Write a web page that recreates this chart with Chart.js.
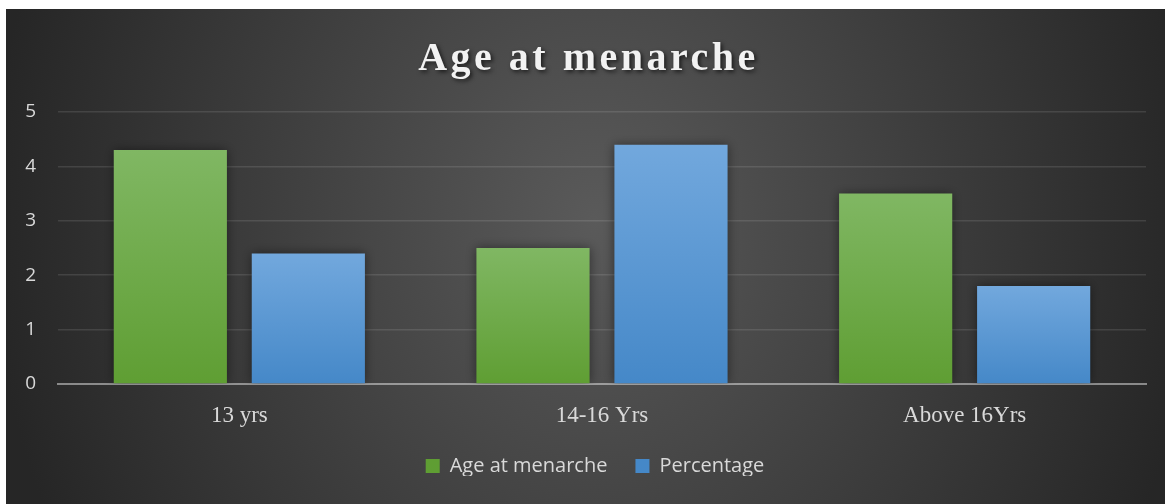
<!DOCTYPE html>
<html>
<head>
<meta charset="utf-8">
<script src="https://cdn.jsdelivr.net/npm/chart.js@4/dist/chart.umd.min.js"></script>
<style>
  html, body { margin: 0; padding: 0; background: #ffffff; }
  #wrap { position: absolute; left: 6px; top: 9px; width: 1159px; height: 495px; }
</style>
</head>
<body>
<div id="wrap"><canvas id="chart"></canvas></div>
<script>
const titleText = 'Age at menarche';
const categories = ['13 yrs', '14-16 Yrs', 'Above 16Yrs'];
const ageAtMenarche = [4.3, 2.5, 3.5];
const percentage = [2.4, 4.4, 1.8];
const yTicks = [0, 1, 2, 3, 4, 5];

// Excel style gradient per bar, light at top, darker at base
function barFill(top, bottom, solid) {
    return (c) => {
        const chart = c.chart;
        if (c.type !== 'data' || !chart.chartArea) return solid;
        const y = chart.scales.y;
        const g = chart.ctx.createLinearGradient(0, y.getPixelForValue(c.raw), 0, y.getPixelForValue(0));
        g.addColorStop(0, top);
        g.addColorStop(1, bottom);
        return g;
    };
}

const backdrop = {
    id: 'backdrop',
    afterLayout(chart) {
        // legend sits a bit right of centre in the original
        if (chart.legend) {
            chart.legend.left += 19;
            chart.legend.right += 19;
        }
    },
    beforeDraw(chart) {
        const { ctx, width, height } = chart;
        const cx = 589, cy = 211, rx = 605, ry = 700;
        ctx.save();
        ctx.fillStyle = '#262626';
        ctx.fillRect(0, 0, width, height);
        ctx.translate(cx, cy);
        ctx.scale(1, ry / rx);
        const g = ctx.createRadialGradient(0, 0, 0, 0, 0, rx);
        g.addColorStop(0, '#5a5a5a');
        g.addColorStop(1, '#262626');
        ctx.fillStyle = g;
        ctx.fillRect(-cx - 10, -height * 2, width + 20, height * 4);
        ctx.restore();

        // title
        ctx.save();
        ctx.font = 'bold 40px "Liberation Serif"';
        ctx.letterSpacing = '3.5px';
        ctx.textAlign = 'center';
        ctx.textBaseline = 'alphabetic';
        ctx.shadowColor = 'rgba(0,0,0,0.65)';
        ctx.shadowBlur = 4;
        ctx.shadowOffsetX = 2;
        ctx.shadowOffsetY = 2;
        ctx.fillStyle = '#f2f2f2';
        ctx.fillText(titleText, width / 2 + 3, 61);
        ctx.restore();
    }
};

const barShadow = {
    id: 'barShadow',
    beforeDatasetsDraw(chart) {
        const ctx = chart.ctx;
        ctx.save();
        ctx.shadowColor = 'rgba(0,0,0,0.45)';
        ctx.shadowBlur = 10;
    },
    afterDatasetsDraw(chart) {
        chart.ctx.restore();
    }
};

new Chart(document.getElementById('chart'), {
    type: 'bar',
    data: {
        labels: categories,
        datasets: [
            {
                label: 'Age at menarche',
                data: ageAtMenarche,
                backgroundColor: barFill('#80b763', '#5f9e33', '#6aad42'),
                borderWidth: 0
            },
            {
                label: 'Percentage',
                data: percentage,
                backgroundColor: barFill('#72a8dd', '#4588c8', '#5b9bd5'),
                borderWidth: 0
            }
        ]
    },
    options: {
        responsive: true,
        maintainAspectRatio: false,
        animation: false,
        categoryPercentage: 0.761,
        barPercentage: 0.82,
        layout: { padding: { top: 103, left: 0, right: 19, bottom: 28 } },
        scales: {
            x: {
                z: 1,
                grid: { display: false, drawTicks: false },
                border: { display: true, color: 'rgba(255,255,255,0.45)', width: 2 },
                ticks: {
                    color: '#d9d9d9',
                    padding: 18,
                    font: { family: '"Liberation Serif"', size: 23 }
                },
                afterFit(scale) { scale.height = 44; }
            },
            y: {
                min: 0,
                max: 5,
                afterBuildTicks(scale) { scale.ticks = yTicks.map(v => ({ value: v })); },
                grid: {
                    drawTicks: false,
                    color: (c) => c.tick && c.tick.value === 0 ? 'rgba(0,0,0,0)' : 'rgba(255,255,255,0.11)',
                    lineWidth: 1.5
                },
                border: { display: false },
                ticks: {
                    color: '#d9d9d9',
                    padding: 22,
                    font: { family: '"Open Sans"', size: 19 }
                },
                afterFit(scale) { scale.width = 52; }
            }
        },
        plugins: {
            title: { display: false },
            tooltip: { enabled: false },
            legend: {
                position: 'bottom',
                maxHeight: 48,
                labels: {
                    color: '#d9d9d9',
                    boxWidth: 14,
                    boxHeight: 14,
                    padding: 28,
                    font: { family: '"Open Sans"', size: 20 }
                }
            }
        }
    },
    plugins: [backdrop, barShadow]
});
</script>
</body>
</html>
